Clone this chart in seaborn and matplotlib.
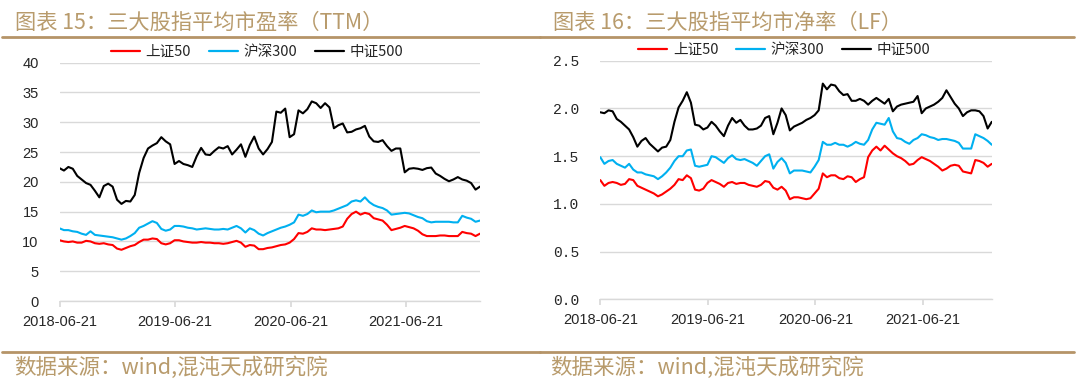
import pandas as pd
import matplotlib.pyplot as plt
import seaborn as sns
from matplotlib.lines import Line2D

# 双周采样 (2018-06-21 起, 14天一个点)
dates = pd.date_range("2018-06-21", periods=96, freq="14D")
series_names = ["上证50", "沪深300", "中证500"]
colors = ["#FF0000", "#00B0F0", "#000000"]

# 图表15: 市盈率 (TTM)
pe_sz50 = [10.2, 10.0, 9.9, 10.0, 9.8, 9.8, 10.1, 10.0, 9.7, 9.6, 9.7, 9.5, 9.4, 8.8, 8.6, 8.9,
           9.2, 9.4, 9.9, 10.3, 10.3, 10.5, 10.4, 9.7, 9.5, 9.7, 10.2, 10.2, 10.0, 9.9, 9.8, 9.8,
           9.9, 9.8, 9.8, 9.7, 9.7, 9.6, 9.7, 9.9, 10.1, 9.8, 9.1, 9.4, 9.3, 8.7, 8.7, 8.9,
           9.0, 9.2, 9.4, 9.5, 9.8, 10.4, 11.4, 11.3, 11.6, 12.2, 12.0, 12.0, 11.9, 12.0, 12.1, 12.2,
           12.5, 13.8, 14.6, 15.0, 14.5, 14.8, 14.6, 13.9, 13.7, 13.5, 12.8, 11.9, 12.1, 12.3, 12.6, 12.4,
           12.2, 11.8, 11.2, 10.9, 10.9, 10.9, 11.0, 11.0, 10.9, 10.9, 10.9, 11.6, 11.4, 11.3, 10.9, 11.3]
pe_hs300 = [12.2, 11.9, 11.9, 11.7, 11.6, 11.3, 11.1, 11.7, 11.1, 11.0, 10.9, 10.8, 10.7, 10.5, 10.3, 10.5,
            10.9, 11.4, 12.3, 12.6, 13.0, 13.4, 13.1, 12.1, 11.8, 12.0, 12.6, 12.6, 12.5, 12.3, 12.2, 12.0,
            12.1, 12.2, 12.1, 12.0, 12.0, 12.1, 12.0, 12.3, 12.6, 12.2, 11.5, 12.2, 11.9, 11.3, 11.0, 11.4,
            11.7, 12.0, 12.3, 12.5, 12.8, 13.2, 14.5, 14.3, 14.6, 15.2, 14.9, 15.0, 15.0, 15.0, 15.2, 15.5,
            15.8, 16.1, 16.7, 16.9, 16.7, 17.4, 16.6, 16.1, 15.8, 15.6, 15.2, 14.5, 14.6, 14.7, 14.8, 14.7,
            14.4, 14.1, 13.9, 13.4, 13.2, 13.3, 13.3, 13.3, 13.3, 13.2, 13.2, 14.3, 14.0, 13.8, 13.3, 13.5]
pe_zz500 = [22.3, 21.9, 22.5, 22.2, 21.0, 20.4, 19.8, 19.5, 18.5, 17.4, 19.3, 19.7, 19.2, 17.0, 16.3, 16.8,
            16.7, 17.8, 21.5, 24.0, 25.6, 26.1, 26.5, 27.5, 26.8, 26.3, 23.0, 23.5, 23.0, 22.8, 22.5, 24.3,
            25.7, 24.6, 24.5, 25.2, 25.8, 25.6, 26.0, 24.6, 25.4, 26.3, 24.2, 26.2, 27.6, 25.6, 24.6, 25.5,
            26.7, 31.8, 31.6, 32.3, 27.5, 28.0, 32.0, 31.5, 32.2, 33.5, 33.2, 32.4, 33.2, 32.5, 29.0, 29.5,
            29.8, 28.3, 28.4, 28.8, 29.0, 29.4, 27.6, 26.8, 26.7, 27.0, 26.0, 25.2, 25.6, 25.6, 21.6, 22.2,
            22.3, 22.2, 22.0, 22.3, 22.4, 21.4, 21.0, 20.5, 20.1, 20.4, 20.8, 20.4, 20.2, 19.8, 18.7, 19.2]

# 图表16: 市净率 (LF)
pb_sz50 = [1.25, 1.19, 1.22, 1.23, 1.22, 1.20, 1.21, 1.26, 1.25, 1.19, 1.17, 1.15, 1.13, 1.11, 1.08, 1.10,
           1.13, 1.16, 1.20, 1.26, 1.25, 1.30, 1.27, 1.15, 1.14, 1.16, 1.22, 1.25, 1.23, 1.21, 1.18, 1.22,
           1.23, 1.21, 1.22, 1.22, 1.20, 1.19, 1.18, 1.20, 1.24, 1.23, 1.17, 1.15, 1.18, 1.14, 1.05, 1.07,
           1.07, 1.06, 1.05, 1.06, 1.11, 1.16, 1.32, 1.28, 1.30, 1.30, 1.27, 1.26, 1.29, 1.28, 1.23, 1.26,
           1.28, 1.49, 1.56, 1.60, 1.56, 1.61, 1.57, 1.53, 1.50, 1.48, 1.45, 1.41, 1.42, 1.46, 1.49, 1.47,
           1.45, 1.42, 1.39, 1.35, 1.37, 1.40, 1.41, 1.40, 1.34, 1.33, 1.32, 1.46, 1.45, 1.43, 1.39, 1.42]
pb_hs300 = [1.49, 1.42, 1.45, 1.46, 1.42, 1.40, 1.38, 1.42, 1.36, 1.33, 1.33, 1.31, 1.30, 1.29, 1.26, 1.29,
            1.33, 1.38, 1.45, 1.50, 1.50, 1.56, 1.57, 1.40, 1.39, 1.40, 1.41, 1.50, 1.49, 1.46, 1.43, 1.48,
            1.51, 1.47, 1.46, 1.47, 1.45, 1.43, 1.40, 1.45, 1.50, 1.52, 1.37, 1.44, 1.48, 1.43, 1.32, 1.35,
            1.35, 1.35, 1.34, 1.33, 1.39, 1.46, 1.65, 1.62, 1.62, 1.64, 1.62, 1.62, 1.60, 1.62, 1.65, 1.63,
            1.62, 1.67, 1.78, 1.85, 1.84, 1.83, 1.90, 1.76, 1.69, 1.68, 1.65, 1.63, 1.67, 1.69, 1.73, 1.72,
            1.70, 1.69, 1.67, 1.68, 1.68, 1.67, 1.66, 1.64, 1.58, 1.58, 1.58, 1.73, 1.71, 1.69, 1.66, 1.62]
pb_zz500 = [1.96, 1.95, 1.98, 1.97, 1.89, 1.86, 1.82, 1.78, 1.70, 1.60, 1.66, 1.69, 1.63, 1.59, 1.55, 1.59,
            1.60, 1.67, 1.86, 2.01, 2.08, 2.17, 2.06, 1.83, 1.82, 1.78, 1.80, 1.86, 1.82, 1.76, 1.71, 1.82,
            1.90, 1.85, 1.88, 1.82, 1.78, 1.78, 1.79, 1.82, 1.90, 1.92, 1.73, 1.85, 2.00, 1.93, 1.77, 1.81,
            1.83, 1.85, 1.88, 1.90, 1.93, 1.98, 2.26, 2.20, 2.25, 2.24, 2.18, 2.14, 2.15, 2.08, 2.08, 2.10,
            2.08, 2.04, 2.08, 2.11, 2.08, 2.05, 2.10, 1.97, 2.02, 2.04, 2.05, 2.06, 2.07, 2.13, 1.95, 2.00,
            2.02, 2.04, 2.07, 2.11, 2.19, 2.12, 2.05, 2.00, 1.92, 1.96, 1.98, 1.98, 1.97, 1.92, 1.79, 1.86]

tick_dates = pd.to_datetime(["2018-06-21", "2019-06-21", "2020-06-21", "2021-06-21"])
gold = "#B89B6C"

sns.set_theme(style="white")
plt.rcParams["font.family"] = ["Noto Sans CJK SC", "DejaVu Sans"]


def to_long(a, b, c):
    df = pd.DataFrame({"date": dates, series_names[0]: a, series_names[1]: b, series_names[2]: c})
    return df.melt(id_vars="date", var_name="指数", value_name="值")


def draw_panel(ax, df, ymax, ystep, mono):
    sns.lineplot(data=df, x="date", y="值", hue="指数", hue_order=series_names,
                 palette=colors, linewidth=1.5, legend=False, ax=ax)
    ax.set_xlim(dates[0], dates[-1])
    ax.set_ylim(0, ymax)
    yt = [i * ystep for i in range(int(round(ymax / ystep)) + 1)]
    ax.set_yticks(yt)
    if mono:
        ax.set_yticklabels([f"{v:.1f}" for v in yt], family="Liberation Mono", fontsize=10.5)
    else:
        ax.set_yticklabels([f"{v:g}" for v in yt], family="Liberation Sans", fontsize=10.5)
    ax.set_xticks(tick_dates)
    ax.set_xticklabels([d.strftime("%Y-%m-%d") for d in tick_dates], family="Liberation Sans", fontsize=10.5)
    ax.set_xlabel("")
    ax.set_ylabel("")
    ax.grid(axis="y", color="#D9D9D9", linewidth=1.0)
    ax.set_axisbelow(True)
    for s in ["top", "right", "left"]:
        ax.spines[s].set_visible(False)
    ax.spines["bottom"].set_color("#D9D9D9")
    ax.spines["bottom"].set_linewidth(1.0)
    ax.tick_params(axis="x", bottom=True, length=4, color="#D9D9D9", pad=6, labelcolor="#262626")
    ax.tick_params(axis="y", left=False, pad=9, labelcolor="#262626")
    handles = [Line2D([], [], color=c, linewidth=1.6) for c in colors]
    ax.legend(handles, series_names, loc="center", bbox_to_anchor=(0.47, 1.045), ncol=3,
              frameon=False, fontsize=10.5, handlelength=2.0, handletextpad=0.4, columnspacing=1.2,
              labelcolor="#262626")


fig = plt.figure(figsize=(10.8, 3.89), dpi=100)
ax1 = fig.add_axes([0.0551, 0.2262, 0.3893, 0.6126])
ax2 = fig.add_axes([0.5558, 0.2301, 0.3625, 0.6139])

draw_panel(ax1, to_long(pe_sz50, pe_hs300, pe_zz500), 40, 5, False)
draw_panel(ax2, to_long(pb_sz50, pb_hs300, pb_zz500), 2.5, 0.5, True)

# 标题、分隔线、数据来源
fig.text(15 / 1080, 1 - 23 / 389, "图表 15：三大股指平均市盈率（TTM）", color=gold, fontsize=15.3, va="center")
fig.text(553 / 1080, 1 - 23 / 389, "图表 16：三大股指平均市净率（LF）", color=gold, fontsize=15.3, va="center")
fig.text(14 / 1080, 1 - 368 / 389, "数据来源：wind,混沌天成研究院", color=gold, fontsize=15.5, va="center")
fig.text(550 / 1080, 1 - 368 / 389, "数据来源：wind,混沌天成研究院", color=gold, fontsize=15.5, va="center")
for x0, x1 in [(2, 540), (540, 1074)]:
    for yy in [37, 352]:
        fig.add_artist(Line2D([x0 / 1080, x1 / 1080], [1 - yy / 389, 1 - yy / 389],
                              color="#B59468", linewidth=2.0, transform=fig.transFigure))

fig.savefig("out.png", dpi=100)
